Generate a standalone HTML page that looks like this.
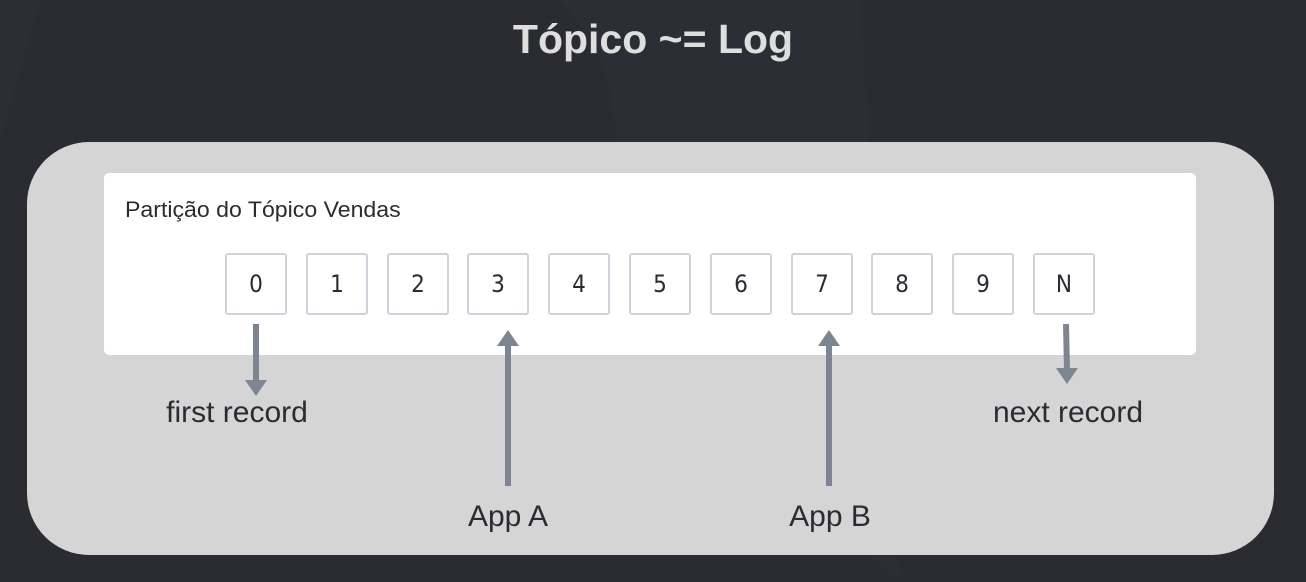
<!DOCTYPE html>
<html><head><meta charset="utf-8"><style>
body{margin:0;width:1306px;height:582px;overflow:hidden;background:#2a2c32;font-family:"Liberation Sans",sans-serif;position:relative}
.t{position:absolute;left:0;width:1306px;text-align:center;top:16px;font-size:41px;font-weight:bold;color:#dedede}
.panel{position:absolute;left:27px;top:142px;width:1247px;height:413px;background:#d5d5d5;border-radius:62px}
.white{position:absolute;left:104px;top:173px;width:1092px;height:182px;background:#fff;border-radius:5px}
.cap{position:absolute;left:125px;top:197px;font-size:22px;color:#2a2c32;transform:scaleX(1.05);transform-origin:left top;white-space:nowrap}
.b{position:absolute;top:253px;width:58px;height:58px;border:2px solid #cdd3da;border-radius:3px;background:#fff;text-align:center;line-height:58px;font-size:24px;color:#2a2c32;font-family:"DejaVu Sans Condensed","Liberation Sans",sans-serif}
.l{position:absolute;font-size:30px;color:#2a2c32;text-align:center;width:240px}
</style></head><body>
<svg width="1306" height="582" style="position:absolute;left:0;top:0">
<path d="M40 0 L0 140 L0 0Z" fill="#2c2e34"/>
<path d="M560 0 Q 660 100 580 320 L 900 582 L 860 0Z" fill="#2c2e35"/>
</svg>
<div class="t">Tópico ~= Log</div>
<div class="panel"></div>
<div class="white"></div>
<div class="cap">Partição do Tópico Vendas</div>
<div class="b" style="left:225px">0</div>
<div class="b" style="left:306px">1</div>
<div class="b" style="left:387px">2</div>
<div class="b" style="left:467px">3</div>
<div class="b" style="left:548px">4</div>
<div class="b" style="left:629px">5</div>
<div class="b" style="left:710px">6</div>
<div class="b" style="left:791px">7</div>
<div class="b" style="left:871px">8</div>
<div class="b" style="left:952px">9</div>
<div class="b" style="left:1033px">N</div>
<svg width="1306" height="582" style="position:absolute;left:0;top:0">
<g stroke="#7d8690" stroke-width="6" fill="#7d8690">
<line x1="256" y1="324" x2="256" y2="382"/>
<line x1="508" y1="345" x2="508" y2="486"/>
<line x1="829" y1="345" x2="829" y2="486"/>
<line x1="1066" y1="324" x2="1067" y2="370"/>
</g>
<g fill="#7d8690">
<polygon points="245,380 267,380 256,396"/>
<polygon points="497,346 519,346 508,330"/>
<polygon points="818,346 840,346 829,330"/>
<polygon points="1056,368 1078,368 1067,384"/>
</g>
</svg>
<div class="l" style="left:117px;top:396px">first record</div>
<div class="l" style="left:948px;top:396px">next record</div>
<div class="l" style="left:388px;top:500px">App A</div>
<div class="l" style="left:710px;top:500px">App B</div>
</body></html>
